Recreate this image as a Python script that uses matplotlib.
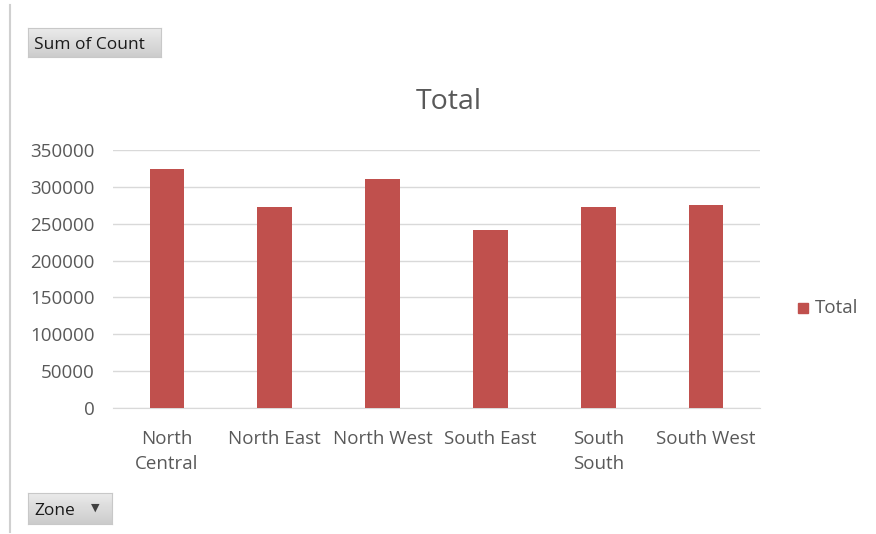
import numpy as np
import matplotlib.pyplot as plt
from matplotlib.patches import Rectangle
from matplotlib.lines import Line2D

plt.rcParams['font.family'] = ['Open Sans', 'DejaVu Sans']

zones = ["North\nCentral", "North East", "North West", "South East", "South\nSouth", "South West"]
totals = [324000, 272000, 310000, 241000, 272000, 276000]
yticks = [0, 50000, 100000, 150000, 200000, 250000, 300000, 350000]

W, H = 876, 534
fig = plt.figure(figsize=(W / 100, H / 100), dpi=100)
txt = '#595959'
bar_col = '#C0504D'

# plot area in pixels: x 113..760, y 150..408
ax = fig.add_axes([113 / W, 1 - 408 / H, (760 - 113) / W, (408 - 150) / H])
ax.bar(range(len(zones)), totals, width=0.32, color=bar_col, zorder=3)
ax.set_xlim(-0.5, len(zones) - 0.5)
ax.set_ylim(0, 350000)
ax.set_yticks(yticks)
ax.set_yticklabels([str(v) for v in yticks])
ax.set_xticks(range(len(zones)))
ax.set_xticklabels(zones, linespacing=1.5)
ax.grid(axis='y', color='#D9D9D9', linewidth=1, zorder=0)
for s in ['top', 'right', 'left']:
    ax.spines[s].set_visible(False)
ax.spines['bottom'].set_color('#D9D9D9')
ax.tick_params(axis='both', length=0, labelsize=13.5, colors=txt)
ax.tick_params(axis='x', pad=15.5)
ax.tick_params(axis='y', pad=13)

fig.text(449 / W, 1 - 102 / H, "Total", ha='center', va='center', fontsize=20.5, color=txt)

# legend
fig.patches.append(Rectangle((798 / W, 1 - 313 / H), 10 / W, 10 / H,
                             transform=fig.transFigure, color=bar_col))
fig.text(815 / W, 1 - 308 / H, "Total", ha='left', va='center', fontsize=13.5, color=txt)

# left border line
fig.add_artist(Line2D([10 / W, 10 / W], [1 - 5 / H, 1 - 532 / H], transform=fig.transFigure,
                      color='#D0D0D0', linewidth=1.5))

# field buttons with a light grey gradient
grad = np.linspace(0.92, 0.80, 30).reshape(-1, 1)

def button(x0, y0, x1, y1, label, arrow=False):
    bax = fig.add_axes([x0 / W, 1 - y1 / H, (x1 - x0) / W, (y1 - y0) / H])
    bax.imshow(grad, cmap='gray', vmin=0, vmax=1, aspect='auto', extent=(0, 1, 0, 1))
    bax.set_xticks([])
    bax.set_yticks([])
    for s in bax.spines.values():
        s.set_color('#C8C8C8')
        s.set_linewidth(0.8)
    bax.text(6 / (x1 - x0), 0.42, label, ha='left', va='center',
             fontsize=12.5, color='#1a1a1a', transform=bax.transAxes)
    if arrow:
        bax.text(0.80, 0.5, "\u25bc", ha='center', va='center', fontsize=8,
                 color='#404040', transform=bax.transAxes)

button(28, 28, 161, 57, "Sum of Count")
button(28, 493, 112, 524, "Zone", arrow=True)

fig.savefig("out.png", dpi=100, facecolor='white')
